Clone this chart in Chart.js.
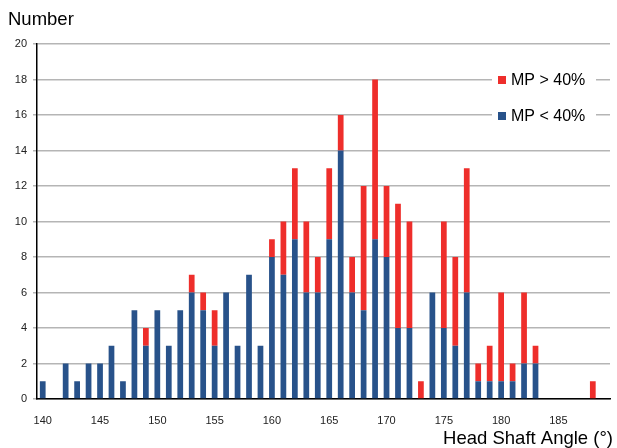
<!DOCTYPE html>
<html>
<head>
<meta charset="utf-8">
<script src="https://cdn.jsdelivr.net/npm/chart.js@4"></script>
<style>
  html, body { margin: 0; padding: 0; background: #fff; }
  #wrap { width: 617px; height: 448px; }
</style>
</head>
<body>
<div id="wrap"><canvas id="chart" width="617" height="448"></canvas></div>
<script>
// head shaft angle, 140..189 degrees
const angles = [];
for (let a = 140; a <= 189; a++) angles.push(a);

// MP < 40% (blue, bottom of stack)
const mpBelow = [1, 0, 2, 1, 2, 2, 3, 1, 5, 3,
                 5, 3, 5, 6, 5, 3, 6, 3, 7, 3,
                 8, 7, 9, 6, 6, 9, 14, 6, 5, 9,
                 8, 4, 4, 0, 6, 4, 3, 6, 1, 1,
                 1, 1, 2, 2, 0, 0, 0, 0, 0, 0];

// MP > 40% (red, stacked on top)
const mpAbove = [0, 0, 0, 0, 0, 0, 0, 0, 0, 1,
                 0, 0, 0, 1, 1, 2, 0, 0, 0, 0,
                 1, 3, 4, 4, 2, 4, 2, 2, 7, 9,
                 4, 7, 6, 1, 0, 6, 5, 7, 1, 2,
                 5, 1, 4, 1, 0, 0, 0, 0, 1, 0];

const yTicks = [0, 2, 4, 6, 8, 10, 12, 14, 16, 18, 20];

const BLUE = '#28528a';
const RED = '#ee2e2b';

// texts that sit outside the normal axis layout
const extraText = {
  id: 'extraText',
  afterDraw(chart) {
    const ctx = chart.ctx;
    ctx.save();
    ctx.fillStyle = '#000';
    ctx.font = '18.5px "Liberation Sans", Arial, sans-serif';
    ctx.textBaseline = 'alphabetic';
    ctx.textAlign = 'left';
    ctx.fillText('Number', 8, 25);
    ctx.textAlign = 'right';
    ctx.fillText('Head Shaft Angle (°)', 613, 444);

    // legend, inside the plot, white box over the grid
    const items = [
      { label: 'MP > 40%', color: RED, y: 80 },
      { label: 'MP < 40%', color: BLUE, y: 116 }
    ];
    ctx.font = '16px "Liberation Sans", Arial, sans-serif';
    ctx.textAlign = 'left';
    ctx.textBaseline = 'middle';
    items.forEach(it => {
      ctx.fillStyle = '#fff';
      ctx.fillRect(492, it.y - 10, 104, 20);
      ctx.fillStyle = it.color;
      ctx.fillRect(498, it.y - 4, 8, 8);
      ctx.fillStyle = '#000';
      ctx.fillText(it.label, 511, it.y + 1);
    });
    ctx.restore();
  }
};

new Chart(document.getElementById('chart'), {
  type: 'bar',
  data: {
    labels: angles,
    datasets: [
      { label: 'MP < 40%', data: mpBelow, backgroundColor: BLUE },
      { label: 'MP > 40%', data: mpAbove, backgroundColor: RED }
    ]
  },
  options: {
    responsive: false,
    animation: false,
    layout: { padding: { top: 44, right: 7, left: 0, bottom: 0 } },
    plugins: {
      legend: { display: false },
      tooltip: { enabled: false }
    },
    datasets: {
      bar: { barPercentage: 0.5, categoryPercentage: 1.0 }
    },
    scales: {
      x: {
        stacked: true,
        grid: { display: false },
        border: { display: true, color: '#000', width: 1.5 },
        ticks: {
          autoSkip: false,
          maxRotation: 0,
          padding: 7,
          color: '#222',
          font: { family: '"Liberation Sans", Arial, sans-serif', size: 11 },
          callback: function (v) {
            const a = angles[v];
            return a % 5 === 0 ? String(a) : '';
          }
        },
        afterFit(scale) { scale.height = 49; }
      },
      y: {
        stacked: true,
        min: 0,
        max: 20,
        afterBuildTicks(scale) {
          scale.ticks = yTicks.map(v => ({ value: v }));
        },
        grid: { color: '#b5b5b5', lineWidth: 1.5, tickLength: 4 },
        border: { display: true, color: '#000', width: 1.5 },
        ticks: {
          padding: 6,
          color: '#222',
          font: { family: '"Liberation Sans", Arial, sans-serif', size: 11 }
        },
        afterFit(scale) { scale.width = 37; }
      }
    }
  },
  plugins: [extraText]
});
</script>
</body>
</html>
